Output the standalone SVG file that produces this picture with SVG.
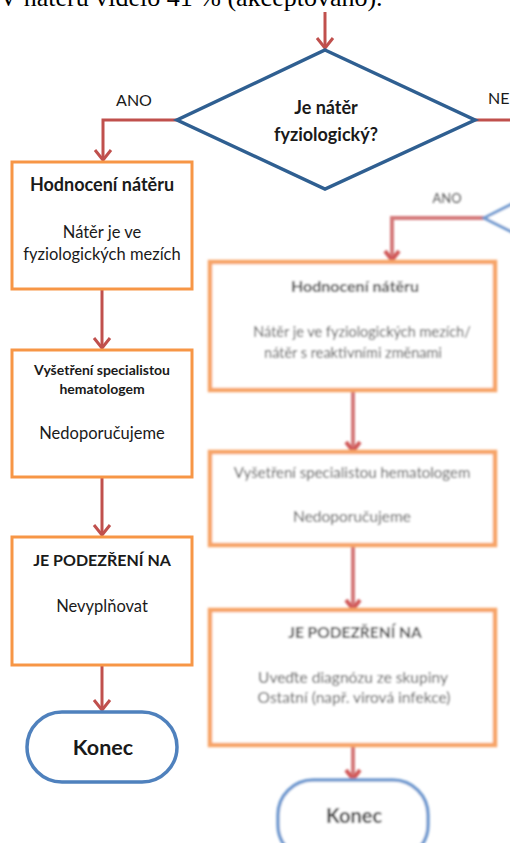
<svg xmlns="http://www.w3.org/2000/svg" width="510" height="843" viewBox="0 0 510 843">
<style>
.bg{fill:#ffffff}
.conn{fill:none;stroke:#c0504d;stroke-width:3}
.box{fill:#ffffff;stroke:#f79646;stroke-width:3}
.dia{fill:#ffffff;stroke:#2f5f91;stroke-width:3.5}
.term{fill:#ffffff;stroke:#4f81bd;stroke-width:3.5}
.t{font-family:Lato,"Open Sans","Liberation Sans",sans-serif;fill:#1a1a1a;text-anchor:middle}
.b{font-weight:bold}
.lab{font-family:Lato,"Open Sans","Liberation Sans",sans-serif;fill:#1a1a1a;font-size:16px}
.top{font-family:"Liberation Serif","Times New Roman",serif;font-size:26px;fill:#000}
.rconn{fill:none;stroke:#d4797a;stroke-width:4}
.rbox{fill:#ffffff;stroke:#f7a468;stroke-width:4.5}
.rterm{fill:#ffffff;stroke:#6f99cf;stroke-width:3.5}
.rt{font-family:Lato,"Open Sans","Liberation Sans",sans-serif;fill:#555;text-anchor:middle;font-size:15.5px}
</style>
<defs>
<marker id="arr" markerUnits="userSpaceOnUse" markerWidth="20" markerHeight="20" refX="0" refY="0" orient="auto" overflow="visible">
<path d="M-10,-8 L0,0 L-10,8" fill="none" stroke="#c0504d" stroke-width="3" stroke-linejoin="miter"/>
</marker>
<marker id="rarr" markerUnits="userSpaceOnUse" markerWidth="20" markerHeight="20" refX="0" refY="0" orient="auto" overflow="visible">
<path d="M-9,-7 L0,0 L-9,7" fill="none" stroke="#d05858" stroke-width="4"/>
</marker>
<filter id="blur" x="-10%" y="-10%" width="120%" height="120%">
<feGaussianBlur stdDeviation="0.9"/>
</filter>
</defs>
<rect class="bg" x="0" y="0" width="510" height="843"/>
<text class="top" x="-1" y="6">V nátěru vidělo 41 % (akceptováno).</text>

<g id="connectors">
<path class="conn" d="M325,12 V48" marker-end="url(#arr)"/>
<path class="conn" d="M177,120 H103 V160" marker-end="url(#arr)"/>
<path class="conn" d="M475,120 H512"/>
<path class="conn" d="M102,289 V348" marker-end="url(#arr)"/>
<path class="conn" d="M102,477 V535" marker-end="url(#arr)"/>
<path class="conn" d="M102,665 V710" marker-end="url(#arr)"/>
<text class="lab" x="134" y="106" text-anchor="middle">ANO</text>
<text class="lab" x="488" y="104">NE</text>
</g>

<g id="decision">
<polygon class="dia" points="325,50 475,120 325,189 177,120"/>
<text class="t b" x="326" y="114" font-size="18">Je nátěr</text>
<text class="t b" x="326" y="141" font-size="18">fyziologický?</text>
</g>

<g id="box-hodnoceni">
<rect class="box" x="12" y="162" width="180" height="127"/>
<text class="t b" x="102" y="191" font-size="18">Hodnocení nátěru</text>
<text class="t" x="102" y="238" font-size="16.5">Nátěr je ve</text>
<text class="t" x="102" y="260" font-size="16.5">fyziologických mezích</text>
</g>

<g id="box-vysetreni">
<rect class="box" x="12" y="350" width="180" height="127"/>
<text class="t b" x="102" y="375" font-size="14">Vyšetření specialistou</text>
<text class="t b" x="102" y="394" font-size="14">hematologem</text>
<text class="t" x="102" y="439" font-size="16.5">Nedoporučujeme</text>
</g>

<g id="box-podezreni">
<rect class="box" x="12" y="537" width="180" height="128"/>
<text class="t b" x="102" y="566" font-size="16">JE PODEZŘENÍ NA</text>
<text class="t" x="102" y="612" font-size="16.5">Nevyplňovat</text>
</g>

<g id="konec">
<rect class="term" x="27" y="712" width="150" height="70" rx="35" ry="35"/>
<text class="t b" x="103" y="755" font-size="21.5">Konec</text>
</g>

<g id="right-branch" filter="url(#blur)">
<g id="right-connectors">
<path class="rconn" d="M484,218 H392 V260" marker-end="url(#rarr)"/>
<path class="rconn" d="M353,390 V451" marker-end="url(#rarr)"/>
<path class="rconn" d="M353,545 V609" marker-end="url(#rarr)"/>
<path class="rconn" d="M353,745 V779" marker-end="url(#rarr)"/>
<text class="rt" x="447" y="203" style="font-size:13px">ANO</text>
</g>
<g id="right-decision">
<polygon class="rterm" points="484,218 560,180 636,218 560,256" style="stroke-width:3"/>
</g>
<g id="right-box-hodnoceni">
<rect class="rbox" x="210" y="262" width="285" height="128"/>
<text class="rt b" x="355" y="292" style="fill:#444;font-size:16px">Hodnocení nátěru</text>
<text class="rt" x="362" y="337" style="font-size:14.5px">Nátěr je ve fyziologických mezích/</text>
<text class="rt" x="353" y="358" style="font-size:14.5px">nátěr s reaktivními změnami</text>
</g>
<g id="right-box-vysetreni">
<rect class="rbox" x="210" y="452" width="285" height="93"/>
<text class="rt" x="352" y="478" style="font-size:15px">Vyšetření specialistou hematologem</text>
<text class="rt" x="352" y="522">Nedoporučujeme</text>
</g>
<g id="right-box-podezreni">
<rect class="rbox" x="210" y="610" width="285" height="135"/>
<text class="rt b" x="355" y="638" style="fill:#444">JE PODEZŘENÍ NA</text>
<text class="rt" x="353" y="683">Uveďte diagnózu ze skupiny</text>
<text class="rt" x="354" y="703">Ostatní (např. virová infekce)</text>
</g>
<g id="right-konec">
<rect class="rterm" x="278" y="780" width="150" height="80" rx="35" ry="35"/>
<text class="rt b" x="354" y="823" style="fill:#333;font-size:20px">Konec</text>
</g>
</g>
</svg>
